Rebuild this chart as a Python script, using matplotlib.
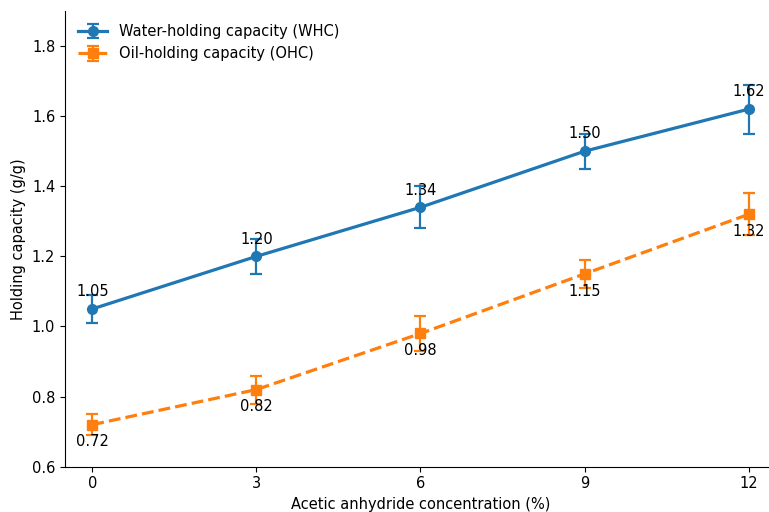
import matplotlib.pyplot as plt

plt.rcParams['font.size'] = 10.5

conc = [0, 3, 6, 9, 12]
whc = [1.05, 1.20, 1.34, 1.50, 1.62]
whc_err = [0.04, 0.05, 0.06, 0.05, 0.07]
ohc = [0.72, 0.82, 0.98, 1.15, 1.32]
ohc_err = [0.03, 0.04, 0.05, 0.04, 0.06]

fig = plt.figure(figsize=(7.69, 5.12), dpi=100)
ax = fig.add_axes([0.0845, 0.0885, 0.9246, 0.890])

ax.errorbar(conc, whc, yerr=whc_err, fmt='-o', color='#1f77b4', lw=2.3,
            ms=7, capsize=4, elinewidth=1.6, capthick=1.6,
            label='Water-holding capacity (WHC)')
ax.errorbar(conc, ohc, yerr=ohc_err, fmt='--s', color='#ff7f0e', lw=2.3,
            ms=7, capsize=4, elinewidth=1.6, capthick=1.6,
            label='Oil-holding capacity (OHC)')

for x, y in zip(conc, whc):
    ax.annotate(f'{y:.2f}', (x, y), xytext=(0, 7), textcoords='offset points',
                ha='center', va='bottom')
for x, y in zip(conc, ohc):
    ax.annotate(f'{y:.2f}', (x, y), xytext=(0, -7), textcoords='offset points',
                ha='center', va='top')

ax.set_xlim(-0.5, 12.5)
ax.set_ylim(0.6, 1.9)
ax.set_xticks(conc)
ax.set_yticks([0.6, 0.8, 1.0, 1.2, 1.4, 1.6, 1.8])
ax.set_xlabel('Acetic anhydride concentration (%)')
ax.set_ylabel('Holding capacity (g/g)')
ax.spines['top'].set_visible(False)
ax.spines['right'].set_visible(False)
ax.legend(loc='upper left', frameon=False)

fig.savefig('out.png', dpi=100)
